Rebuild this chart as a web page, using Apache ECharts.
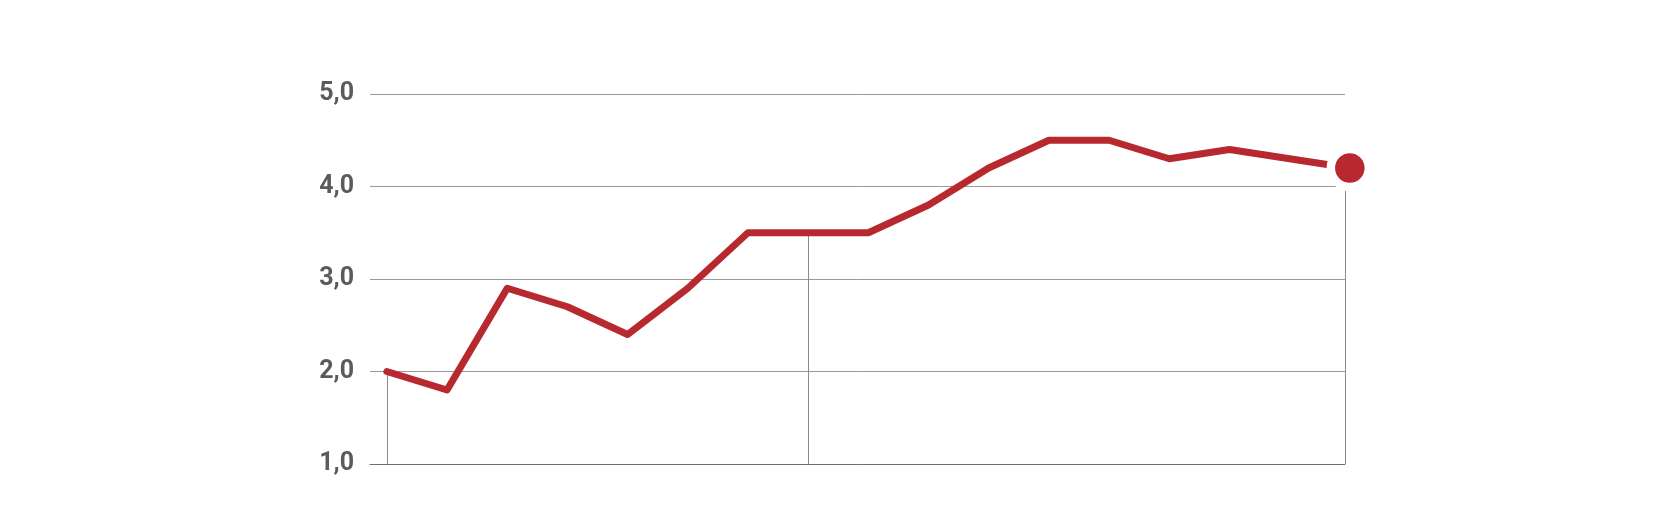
<!DOCTYPE html>
<html>
<head>
<meta charset="utf-8">
<script src="https://cdn.jsdelivr.net/npm/echarts@6/dist/echarts.min.js"></script>
<style>
html, body { margin: 0; padding: 0; background: #fff; }
#chart { width: 1660px; height: 512px; }
</style>
</head>
<body>
<div id="chart"></div>
<script>
// x positions (periods) and values
const periods = [0, 1, 2, 3, 4, 5, 6, 7, 8, 9, 10, 11, 12, 13, 14, 15, 16];
const values = [2.0, 1.8, 2.9, 2.7, 2.4, 2.9, 3.5, 3.5, 3.5, 3.8, 4.2, 4.5, 4.5, 4.3, 4.4, 4.3, 4.2];
const yTicks = [1, 2, 3, 4, 5];
// periods that get a drop line to the baseline
const dropAt = [0, 7];

const X_MIN = -0.28;
const X_MAX = 15.92;
const last = periods.length - 1;

const lineData = periods.map((p, i) => [p, values[i]]);

// drop lines: from the point down to the baseline
const drops = dropAt.map(p => [
  { coord: [p, values[periods.indexOf(p)]] },
  { coord: [p, yTicks[0]] }
]);
// the last one sits on the right edge of the plot
drops.push([
  { coord: [X_MAX, values[last]] },
  { coord: [X_MAX, yTicks[0]] }
]);

const option = {
  animation: false,
  grid: {
    left: 370,
    right: 315,
    top: 94,
    bottom: 48,
    containLabel: false
  },
  xAxis: {
    type: 'value',
    min: X_MIN,
    max: X_MAX,
    axisLabel: { show: false },
    axisTick: { show: false },
    splitLine: { show: false },
    axisLine: { show: true, lineStyle: { color: '#707070', width: 1 } }
  },
  yAxis: {
    type: 'value',
    min: yTicks[0],
    max: yTicks[yTicks.length - 1],
    interval: 1,
    axisLine: { show: false },
    axisTick: { show: false },
    axisLabel: {
      margin: 16,
      color: '#5b5b5b',
      fontFamily: 'Roboto',
      fontWeight: 'bold',
      fontSize: 25,
      padding: [6, 0, 0, 0],
      formatter: v => v.toFixed(1).replace('.', ',')
    },
    splitLine: { lineStyle: { color: '#9a9a9a', width: 1 } }
  },
  series: [
    {
      type: 'line',
      z: 3,
      data: lineData,
      clip: false,
      showSymbol: false,
      lineStyle: { color: '#b8292f', width: 7, cap: 'round', join: 'round' },
      markLine: {
        z: 1,
        silent: true,
        symbol: 'none',
        label: { show: false },
        lineStyle: { color: '#8a8a8a', width: 1, type: 'solid' },
        data: drops
      }
    },
    {
      // highlighted end point with a white halo
      type: 'scatter',
      z: 4,
      clip: false,
      data: [[periods[last], values[last]]],
      symbolSize: 38,
      itemStyle: { color: '#b8292f', borderColor: '#fff', borderWidth: 8.5, opacity: 1 }
    }
  ]
};

const myChart = echarts.init(document.getElementById('chart'));
myChart.setOption(option);
</script>
</body>
</html>
